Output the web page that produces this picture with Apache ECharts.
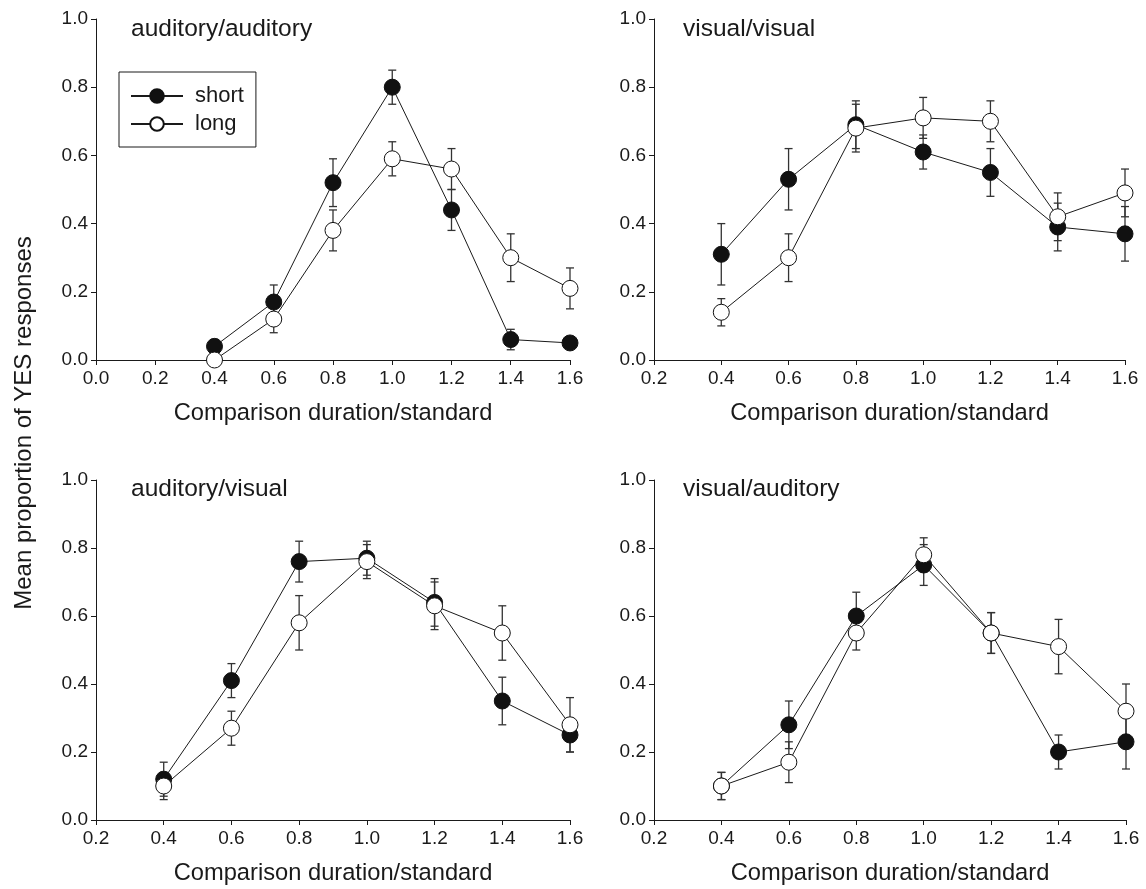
<!DOCTYPE html>
<html><head><meta charset="utf-8">
<script src="https://cdn.jsdelivr.net/npm/echarts@6/dist/echarts.min.js"></script>
<style>html,body{margin:0;padding:0;background:#fff}#c{width:1146px;height:889px}</style>
</head><body><div id="c"></div>
<script>
// ---- data ----
const durations = [0.4, 0.6, 0.8, 1.0, 1.2, 1.4, 1.6];
const panelTitles = ['auditory/auditory', 'visual/visual', 'auditory/visual', 'visual/auditory'];
const seriesNames = ['short', 'long'];
const xAxisName = 'Comparison duration/standard';
const yAxisName = 'Mean proportion of YES responses';
const xMinTopLeft = 0.0, xMinOthers = 0.2, xMax = 1.6, xStep = 0.2;
const yMin = 0.0, yMax = 1.0, yStep = 0.2;

// auditory/auditory
const aaShort    = [0.04, 0.17, 0.52, 0.80, 0.44, 0.06, 0.05];
const aaShortErr = [0.02, 0.05, 0.07, 0.05, 0.06, 0.03, 0.01];
const aaLong     = [0.00, 0.12, 0.38, 0.59, 0.56, 0.30, 0.21];
const aaLongErr  = [0.00, 0.04, 0.06, 0.05, 0.06, 0.07, 0.06];
// visual/visual
const vvShort    = [0.31, 0.53, 0.69, 0.61, 0.55, 0.39, 0.37];
const vvShortErr = [0.09, 0.09, 0.07, 0.05, 0.07, 0.07, 0.08];
const vvLong     = [0.14, 0.30, 0.68, 0.71, 0.70, 0.42, 0.49];
const vvLongErr  = [0.04, 0.07, 0.07, 0.06, 0.06, 0.07, 0.07];
// auditory/visual
const avShort    = [0.12, 0.41, 0.76, 0.77, 0.64, 0.35, 0.25];
const avShortErr = [0.05, 0.05, 0.06, 0.05, 0.07, 0.07, 0.05];
const avLong     = [0.10, 0.27, 0.58, 0.76, 0.63, 0.55, 0.28];
const avLongErr  = [0.04, 0.05, 0.08, 0.05, 0.07, 0.08, 0.08];
// visual/auditory
const vaShort    = [0.10, 0.28, 0.60, 0.75, 0.55, 0.20, 0.23];
const vaShortErr = [0.04, 0.07, 0.07, 0.06, 0.06, 0.05, 0.08];
const vaLong     = [0.10, 0.17, 0.55, 0.78, 0.55, 0.51, 0.32];
const vaLongErr  = [0.04, 0.06, 0.05, 0.05, 0.06, 0.08, 0.08];

const panelData = [
  [aaShort, aaShortErr, aaLong, aaLongErr],
  [vvShort, vvShortErr, vvLong, vvLongErr],
  [avShort, avShortErr, avLong, avLongErr],
  [vaShort, vaShortErr, vaLong, vaLongErr]
];

// ---- layout / style ----
const FONT = 'Liberation Sans, Arial, Helvetica, sans-serif';
const INK = '#1a1a1a';
const grids = [
  {left: 96,  top: 19,  width: 474, height: 341},
  {left: 654, top: 19,  width: 471, height: 341},
  {left: 96,  top: 480, width: 474, height: 340},
  {left: 654, top: 480, width: 472, height: 340}
];
const titlePos = [
  {left: 131, top: 17}, {left: 683, top: 17},
  {left: 131, top: 477}, {left: 683, top: 477}
];

function renderErr(params, api) {
  const x = api.value(0), y = api.value(1), e = api.value(2);
  const t = api.coord([x, y + e]), b = api.coord([x, y - e]);
  const cap = 4;
  const style = {stroke: '#333', lineWidth: 1.3, fill: null};
  return {type: 'group', children: [
    {type: 'line', shape: {x1: t[0], y1: t[1], x2: b[0], y2: b[1]}, style: style},
    {type: 'line', shape: {x1: t[0] - cap, y1: t[1], x2: t[0] + cap, y2: t[1]}, style: style},
    {type: 'line', shape: {x1: b[0] - cap, y1: b[1], x2: b[0] + cap, y2: b[1]}, style: style}
  ]};
}

const xAxes = [], yAxes = [], series = [], titles = [];
grids.forEach((g, i) => {
  xAxes.push({
    type: 'value', gridIndex: i,
    min: i === 0 ? xMinTopLeft : xMinOthers, max: xMax, interval: xStep,
    name: xAxisName, nameLocation: 'middle', nameGap: 41,
    nameTextStyle: {fontSize: 23.7, color: INK, fontFamily: FONT},
    axisLine: {show: true, onZero: false, lineStyle: {color: INK, width: 1}},
    axisTick: {show: true, inside: false, length: 5, lineStyle: {color: INK}},
    axisLabel: {margin: 9, fontSize: 19, color: INK, fontFamily: FONT,
      formatter: v => Number(v).toFixed(1), showMinLabel: true, showMaxLabel: true},
    splitLine: {show: false}
  });
  yAxes.push({
    type: 'value', gridIndex: i, min: yMin, max: yMax, interval: yStep,
    axisLine: {show: true, onZero: false, lineStyle: {color: INK, width: 1}},
    axisTick: {show: true, inside: false, length: 5, lineStyle: {color: INK}},
    axisLabel: {margin: 8, fontSize: 19, color: INK, fontFamily: FONT,
      formatter: v => Number(v).toFixed(1)},
    splitLine: {show: false}
  });
  titles.push({
    text: panelTitles[i], left: titlePos[i].left, top: titlePos[i].top, padding: 0,
    textStyle: {fontSize: 24.5, fontWeight: 'normal', color: INK, fontFamily: FONT}
  });
  const [s, se, l, le] = panelData[i];
  series.push({
    type: 'custom', xAxisIndex: i, yAxisIndex: i, z: 1, renderItem: renderErr,
    encode: {x: 0, y: 1}, silent: true,
    data: durations.map((x, j) => [x, s[j], se[j]])
  });
  series.push({
    type: 'custom', xAxisIndex: i, yAxisIndex: i, z: 1, renderItem: renderErr,
    encode: {x: 0, y: 1}, silent: true,
    data: durations.map((x, j) => [x, l[j], le[j]])
  });
  series.push({
    name: seriesNames[0], type: 'line', xAxisIndex: i, yAxisIndex: i, z: 3,
    symbol: 'circle', symbolSize: 16, showAllSymbol: true,
    lineStyle: {color: INK, width: 1},
    itemStyle: {color: '#111', borderColor: '#111', borderWidth: 1},
    data: durations.map((x, j) => [x, s[j]])
  });
  series.push({
    name: seriesNames[1], type: 'line', xAxisIndex: i, yAxisIndex: i, z: 4,
    symbol: 'circle', symbolSize: 16, showAllSymbol: true,
    lineStyle: {color: INK, width: 1},
    itemStyle: {color: '#fff', borderColor: '#111', borderWidth: 1},
    data: durations.map((x, j) => [x, l[j]])
  });
});

const chart = echarts.init(document.getElementById('c'), null, {renderer: 'canvas'});
chart.setOption({
  animation: false,
  backgroundColor: '#fff',
  title: titles,
  grid: grids.map(g => Object.assign({containLabel: false}, g)),
  xAxis: xAxes,
  yAxis: yAxes,
  legend: {
    data: seriesNames, orient: 'vertical', left: 119, top: 72,
    itemWidth: 52, itemHeight: 17, itemGap: 6,
    padding: [13, 12, 12, 11],
    borderColor: INK, borderWidth: 1, borderRadius: 0,
    selectedMode: false,
    textStyle: {fontSize: 22, color: INK, fontFamily: FONT, lineHeight: 22, padding: [0, 0, 0, 7]}
  },
  graphic: [{
    type: 'text', x: 24, y: 423, rotation: Math.PI / 2,
    style: {text: yAxisName, fontSize: 24, fill: INK, fontFamily: FONT,
      align: 'center', verticalAlign: 'middle'}
  }],
  series: series
});
</script></body></html>
